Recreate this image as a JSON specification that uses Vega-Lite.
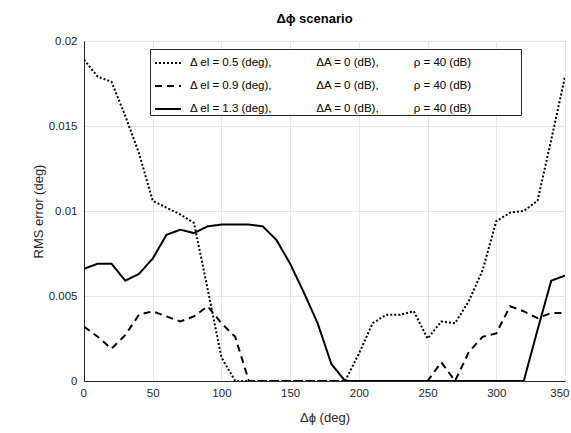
{
  "$schema": "https://vega.github.io/schema/vega-lite/v6.json",
  "width": 481,
  "height": 340,
  "autosize": {"type": "none"},
  "padding": {"left": 84, "top": 41, "right": 6, "bottom": 52},
  "background": "white",
  "config": {
    "font": "Liberation Sans",
    "view": {"stroke": "#262626", "strokeWidth": 1},
    "axis": {
      "labelFont": "Liberation Sans",
      "titleFont": "Liberation Sans",
      "labelColor": "#262626",
      "titleColor": "#262626",
      "labelFontSize": 11.5,
      "titleFontSize": 13,
      "titleFontWeight": "normal",
      "domainColor": "#262626",
      "gridColor": "#e6e6e6",
      "gridOpacity": 1,
      "tickColor": "#262626",
      "tickSize": 0
    }
  },
  "title": {
    "text": "Δϕ scenario",
    "fontSize": 13,
    "fontWeight": "bold",
    "font": "Liberation Sans",
    "color": "#000000",
    "offset": 9,
    "dx": -10
  },
  "data": {
    "values": [
      {"phi": 0, "el": "0.5", "rms": 0.0189},
      {"phi": 10, "el": "0.5", "rms": 0.0179},
      {"phi": 20, "el": "0.5", "rms": 0.0176},
      {"phi": 30, "el": "0.5", "rms": 0.0156},
      {"phi": 40, "el": "0.5", "rms": 0.0134},
      {"phi": 50, "el": "0.5", "rms": 0.0106},
      {"phi": 60, "el": "0.5", "rms": 0.0102},
      {"phi": 70, "el": "0.5", "rms": 0.0098},
      {"phi": 80, "el": "0.5", "rms": 0.0093},
      {"phi": 90, "el": "0.5", "rms": 0.0054},
      {"phi": 100, "el": "0.5", "rms": 0.0014},
      {"phi": 110, "el": "0.5", "rms": 0},
      {"phi": 120, "el": "0.5", "rms": 0},
      {"phi": 130, "el": "0.5", "rms": 0},
      {"phi": 140, "el": "0.5", "rms": 0},
      {"phi": 150, "el": "0.5", "rms": 0},
      {"phi": 160, "el": "0.5", "rms": 0},
      {"phi": 170, "el": "0.5", "rms": 0},
      {"phi": 180, "el": "0.5", "rms": 0},
      {"phi": 190, "el": "0.5", "rms": 0},
      {"phi": 200, "el": "0.5", "rms": 0.0016},
      {"phi": 210, "el": "0.5", "rms": 0.0034},
      {"phi": 220, "el": "0.5", "rms": 0.0039},
      {"phi": 230, "el": "0.5", "rms": 0.0039},
      {"phi": 240, "el": "0.5", "rms": 0.0041},
      {"phi": 250, "el": "0.5", "rms": 0.0025},
      {"phi": 260, "el": "0.5", "rms": 0.0035},
      {"phi": 270, "el": "0.5", "rms": 0.0034},
      {"phi": 280, "el": "0.5", "rms": 0.0047},
      {"phi": 290, "el": "0.5", "rms": 0.0065},
      {"phi": 300, "el": "0.5", "rms": 0.0094},
      {"phi": 310, "el": "0.5", "rms": 0.0099},
      {"phi": 320, "el": "0.5", "rms": 0.0100},
      {"phi": 330, "el": "0.5", "rms": 0.0106},
      {"phi": 340, "el": "0.5", "rms": 0.0142},
      {"phi": 350, "el": "0.5", "rms": 0.0179},

      {"phi": 0, "el": "0.9", "rms": 0.0032},
      {"phi": 10, "el": "0.9", "rms": 0.0026},
      {"phi": 20, "el": "0.9", "rms": 0.0019},
      {"phi": 30, "el": "0.9", "rms": 0.0027},
      {"phi": 40, "el": "0.9", "rms": 0.0039},
      {"phi": 50, "el": "0.9", "rms": 0.0041},
      {"phi": 60, "el": "0.9", "rms": 0.0038},
      {"phi": 70, "el": "0.9", "rms": 0.0035},
      {"phi": 80, "el": "0.9", "rms": 0.0038},
      {"phi": 90, "el": "0.9", "rms": 0.0044},
      {"phi": 100, "el": "0.9", "rms": 0.0034},
      {"phi": 110, "el": "0.9", "rms": 0.0026},
      {"phi": 120, "el": "0.9", "rms": 0},
      {"phi": 130, "el": "0.9", "rms": 0},
      {"phi": 140, "el": "0.9", "rms": 0},
      {"phi": 150, "el": "0.9", "rms": 0},
      {"phi": 160, "el": "0.9", "rms": 0},
      {"phi": 170, "el": "0.9", "rms": 0},
      {"phi": 180, "el": "0.9", "rms": 0},
      {"phi": 190, "el": "0.9", "rms": 0},
      {"phi": 200, "el": "0.9", "rms": 0},
      {"phi": 210, "el": "0.9", "rms": 0},
      {"phi": 220, "el": "0.9", "rms": 0},
      {"phi": 230, "el": "0.9", "rms": 0},
      {"phi": 240, "el": "0.9", "rms": 0},
      {"phi": 250, "el": "0.9", "rms": 0},
      {"phi": 260, "el": "0.9", "rms": 0.0011},
      {"phi": 270, "el": "0.9", "rms": 0},
      {"phi": 280, "el": "0.9", "rms": 0.0017},
      {"phi": 290, "el": "0.9", "rms": 0.0026},
      {"phi": 300, "el": "0.9", "rms": 0.0028},
      {"phi": 310, "el": "0.9", "rms": 0.0044},
      {"phi": 320, "el": "0.9", "rms": 0.0041},
      {"phi": 330, "el": "0.9", "rms": 0.0037},
      {"phi": 340, "el": "0.9", "rms": 0.0040},
      {"phi": 350, "el": "0.9", "rms": 0.0040},

      {"phi": 0, "el": "1.3", "rms": 0.0066},
      {"phi": 10, "el": "1.3", "rms": 0.0069},
      {"phi": 20, "el": "1.3", "rms": 0.0069},
      {"phi": 30, "el": "1.3", "rms": 0.0059},
      {"phi": 40, "el": "1.3", "rms": 0.0063},
      {"phi": 50, "el": "1.3", "rms": 0.0072},
      {"phi": 60, "el": "1.3", "rms": 0.0086},
      {"phi": 70, "el": "1.3", "rms": 0.0089},
      {"phi": 80, "el": "1.3", "rms": 0.0087},
      {"phi": 90, "el": "1.3", "rms": 0.0091},
      {"phi": 100, "el": "1.3", "rms": 0.0092},
      {"phi": 110, "el": "1.3", "rms": 0.0092},
      {"phi": 120, "el": "1.3", "rms": 0.0092},
      {"phi": 130, "el": "1.3", "rms": 0.0091},
      {"phi": 140, "el": "1.3", "rms": 0.0083},
      {"phi": 150, "el": "1.3", "rms": 0.0069},
      {"phi": 160, "el": "1.3", "rms": 0.0052},
      {"phi": 170, "el": "1.3", "rms": 0.0034},
      {"phi": 180, "el": "1.3", "rms": 0.0010},
      {"phi": 190, "el": "1.3", "rms": 0},
      {"phi": 200, "el": "1.3", "rms": 0},
      {"phi": 210, "el": "1.3", "rms": 0},
      {"phi": 220, "el": "1.3", "rms": 0},
      {"phi": 230, "el": "1.3", "rms": 0},
      {"phi": 240, "el": "1.3", "rms": 0},
      {"phi": 250, "el": "1.3", "rms": 0},
      {"phi": 260, "el": "1.3", "rms": 0},
      {"phi": 270, "el": "1.3", "rms": 0},
      {"phi": 280, "el": "1.3", "rms": 0},
      {"phi": 290, "el": "1.3", "rms": 0},
      {"phi": 300, "el": "1.3", "rms": 0},
      {"phi": 310, "el": "1.3", "rms": 0},
      {"phi": 320, "el": "1.3", "rms": 0},
      {"phi": 330, "el": "1.3", "rms": 0.0030},
      {"phi": 340, "el": "1.3", "rms": 0.0059},
      {"phi": 350, "el": "1.3", "rms": 0.0062}
    ]
  },
  "mark": {"type": "line", "color": "black", "strokeWidth": 2, "clip": true},
  "encoding": {
    "x": {
      "field": "phi",
      "type": "quantitative",
      "scale": {"domain": [0, 350], "nice": false},
      "axis": {
        "title": "Δϕ (deg)",
        "values": [0, 50, 100, 150, 200, 250, 300, 350],
        "labelPadding": 6,
        "titlePadding": 13,
        "labelFlush": true,
        "labelFlushOffset": 4
      }
    },
    "y": {
      "field": "rms",
      "type": "quantitative",
      "scale": {"domain": [0, 0.02], "nice": false, "zero": true},
      "axis": {
        "title": "RMS error (deg)",
        "values": [0, 0.005, 0.01, 0.015, 0.02],
        "format": "~g",
        "labelPadding": 7,
        "titlePadding": 3
      }
    },
    "detail": {"field": "el"},
    "strokeDash": {
      "field": "el",
      "type": "nominal",
      "scale": {"domain": ["0.5", "0.9", "1.3"], "range": [[2, 2], [7, 5], [1, 0]]},
      "legend": {
        "title": null,
        "orient": "none",
        "legendX": 66,
        "legendY": 8,
        "direction": "vertical",
        "symbolType": "stroke",
        "symbolSize": 676,
        "symbolStrokeWidth": 2,
        "symbolStrokeColor": "black",
        "symbolOffset": 4,
        "strokeColor": "#262626",
        "fillColor": "white",
        "padding": 0,
        "rowPadding": 3,
        "labelOffset": 8,
        "labelFontSize": 11.5,
        "labelFont": "Liberation Sans",
        "labelColor": "#000000",
        "labelLimit": 600,
        "labelExpr": "'Δ el = ' + datum.label + ' (deg),\u00a0\u00a0\u00a0\u00a0\u00a0\u00a0\u00a0\u00a0\u00a0\u00a0\u00a0\u00a0\u00a0\u00a0ΔA = 0 (dB),\u00a0\u00a0\u00a0\u00a0\u00a0\u00a0\u00a0\u00a0\u00a0\u00a0\u00a0ρ = 40 (dB)\u00a0\u00a0\u00a0\u00a0\u00a0\u00a0\u00a0\u00a0\u00a0\u00a0\u00a0\u00a0\u00a0\u00a0\u00a0\u200b'"
      }
    }
  }
}
